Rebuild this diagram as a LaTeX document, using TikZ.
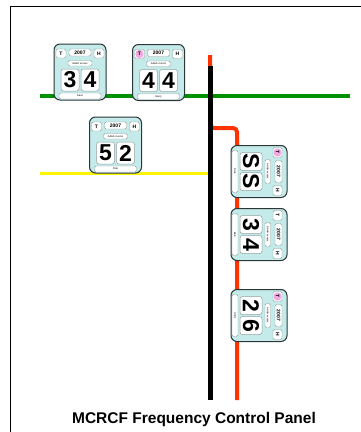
\documentclass[tikz,border=0pt]{standalone}
\usepackage{fontspec}
\setmainfont{Liberation Sans}
\definecolor{cardcyan}{RGB}{196,234,234}
\definecolor{cardedge}{RGB}{45,55,55}
\definecolor{boxedge}{RGB}{150,160,160}
\definecolor{linegreen}{RGB}{0,145,0}
\definecolor{lineyellow}{RGB}{255,245,0}
\definecolor{linered}{RGB}{255,50,0}
\definecolor{stamppink}{RGB}{240,170,225}
\tikzset{
  cardbody/.style={draw=cardedge,fill=cardcyan,line width=1pt,rounded corners=6pt},
  whitebox/.style={draw=boxedge,fill=white,line width=0.4pt,rounded corners=1.5pt},
  digitbox/.style={draw=boxedge,fill=white,line width=0.5pt,rounded corners=2.5pt},
  digit/.style={font=\fontsize{23}{23}\selectfont\bfseries,inner sep=0pt},
  tiny/.style={font=\fontsize{5}{5}\selectfont\bfseries,inner sep=0pt},
  micro/.style={font=\fontsize{2.6}{3}\selectfont,inner sep=0pt},
  wire/.style={line cap=butt},
  pics/card/.style n args={4}{code={
    \draw[cardbody] (-26,-28) rectangle (26,28);
    \draw[whitebox] (-24,-23) rectangle (-14,-14);
    \ifnum#4=1 \fill[stamppink] (-19,-18.5) circle (4.2); \fi
    \node[tiny] (-t) at (-19,-18.5) {T};
    \draw[whitebox] (-11,-23) rectangle (11,-16);
    \node[tiny] (-yr) at (0,-19.5) {2007};
    \draw[whitebox] (14,-23) rectangle (24,-14);
    \node[tiny] (-h) at (19,-18.5) {H};
    \draw[whitebox] (-12,-11.5) rectangle (12,-6);
    \node[micro] (-aa) at (0,-8.7) {AAAA xxxxxx};
    \draw[digitbox] (-19,-3) rectangle (-1,19);
    \draw[digitbox] (1,-3) rectangle (19,19);
    \node[digit] (-d1) at (-10,8) {#1};
    \node[digit] (-d2) at (10,8) {#2};
    \draw[whitebox] (-21,21) rectangle (21,27);
    \node[micro] (-nm) at (0,24) {#3};
  }}
}
\begin{document}
\begin{tikzpicture}[x=1pt,y=-1pt]
\useasboundingbox (0,0) rectangle (361,432);
% frame
\coordinate (fa) at (10,440);
\coordinate (fb) at (10,6);
\coordinate (fc) at (370,6);
\draw[line width=1pt] (fa) -- (fb) -- (fc);
% lines
\coordinate (g1) at (40,96);
\coordinate (g2) at (350,96);
\coordinate (y1) at (40,173);
\coordinate (y2) at (209,173);
\coordinate (r1) at (210,55);
\coordinate (r2) at (210,128);
\coordinate (r3) at (237,128);
\coordinate (r4) at (237,400);
\coordinate (b1) at (210,66);
\coordinate (b2) at (210,400);
\draw[wire,linegreen,line width=4pt] (g1) -- (g2);
\draw[wire,lineyellow,line width=3pt] (y1) -- (y2);
\draw[wire,linered,line width=4pt,rounded corners=4pt] (r1) -- (r2) -- (r3) -- (r4);
\draw[wire,black,line width=5pt] (b1) -- (b2);
% cards
\pic (c1) at (80,72) {card={3}{4}{Dave}{0}};
\pic (c2) at (158.5,72.5) {card={4}{4}{Harry}{1}};
\pic (c3) at (115.5,145) {card={5}{2}{Pete}{0}};
\pic[rotate=-90,transform shape] (c4) at (259,171.5) {card={S}{S}{Dick}{1}};
\pic[rotate=-90,transform shape] (c5) at (259,234.5) {card={3}{4}{Bob}{0}};
\pic[rotate=-90,transform shape] (c6) at (259,315.5) {card={2}{6}{Andy}{1}};
% title
\node[font=\fontsize{15.5}{16}\selectfont\bfseries,anchor=base,inner sep=0pt] (title) at (194,423) {MCRCF Frequency Control Panel};
\end{tikzpicture}
\end{document}
